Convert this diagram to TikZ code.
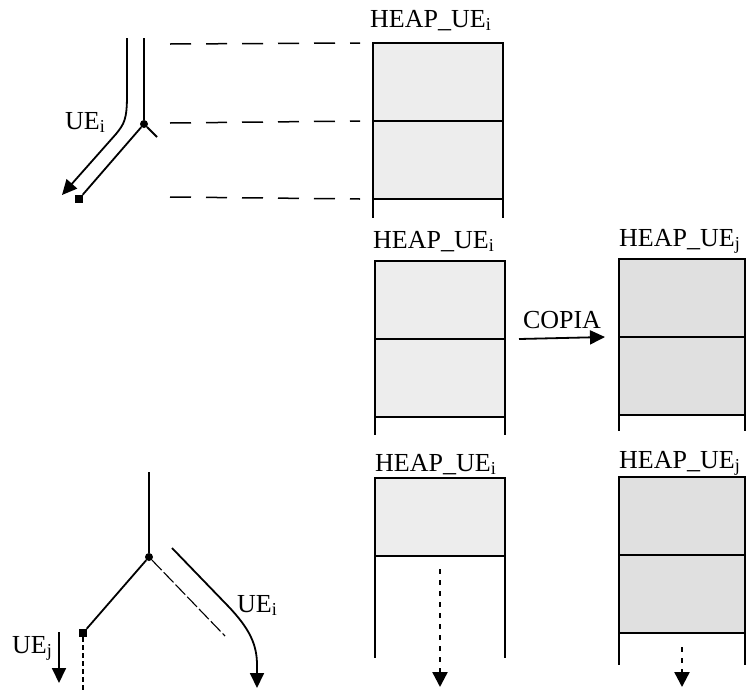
\documentclass[tikz,border=0pt]{standalone}
\usepackage{fontspec}
\setmainfont{Liberation Serif}
\usetikzlibrary{arrows.meta,positioning}
\definecolor{heapfill}{gray}{0.93}
\definecolor{copyfill}{gray}{0.88}
\tikzset{
  cell/.style={draw, line width=2pt, fill=heapfill, minimum width=130pt,
    minimum height=78pt, inner sep=0pt, outer sep=0pt},
  copycell/.style={cell, fill=copyfill, minimum width=126pt},
  wall/.style={line width=2pt},
  txt/.style={font=\fontsize{26}{28}\selectfont, anchor=base west, inner sep=0pt},
  guide/.style={line width=1.5pt, dash pattern=on 21pt off 15pt},
  branch/.style={line width=1.8pt},
  hint/.style={line width=1.1pt, dash pattern=on 14pt off 3pt},
  fork/.style={circle, fill, inner sep=0pt, minimum size=8pt},
  cut/.style={rectangle, fill, inner sep=0pt, minimum size=8pt},
  flow/.style={line width=1.8pt, -{Triangle[length=15pt,width=14pt]}},
  heapgrow/.style={line width=2.4pt, dash pattern=on 5pt off 6pt,
    -{Triangle[length=15pt,width=15pt]}},
}

\begin{document}
\begin{tikzpicture}[x=1pt,y=-1pt]
\useasboundingbox (0,0) rectangle (746,691);

% heap of UE_i, before the fork
\node[cell] (hiA) at (438,82) {};
\node[cell, below=0pt of hiA] (hiB) {};
\draw[wall] (hiB.south west) -- ++(0,19) (hiB.south east) -- ++(0,19);
\node[txt] (hiT) at (370,27) {HEAP\_UE\textsubscript{i}};

% process tree, top
\coordinate (tTop) at (144,38);
\node[fork] (tFork) at (144,124) {};
\coordinate (tStub) at (157,137);
\node[cut] (tSq) at (79,199) {};
\draw[branch] (tTop) -- (tFork);
\draw[branch] (tFork) -- (tStub);
\draw[branch] (tFork) -- (tSq);
\coordinate (tRun) at (127,38);
\coordinate (tRunEnd) at (62,195);
\draw[flow] (tRun) -- (127,95) .. controls (127,120) and (124,124) .. (116,134) -- (tRunEnd);
\node[txt] (tLab) at (65,129) {UE\textsubscript{i}};

\coordinate (g1) at (170,44);
\coordinate (g2) at (170,123);
\coordinate (g3) at (170,197);
\draw[guide] (g1) -- ([xshift=-13pt]hiA.north west);
\draw[guide] (g2) -- ([xshift=-13pt]hiB.north west);
\draw[guide] (g3) -- ([xshift=-13pt]hiB.south west);

% fork: the heap is copied
\node[cell] (hmA) at (440,300) {};
\node[cell, below=0pt of hmA] (hmB) {};
\draw[wall] (hmB.south west) -- ++(0,18) (hmB.south east) -- ++(0,18);
\node[txt] (hmT) at (373,248) {HEAP\_UE\textsubscript{i}};

\node[copycell] (hjA) at (682,298) {};
\node[copycell, below=0pt of hjA] (hjB) {};
\draw[wall] (hjB.south west) -- ++(0,16) (hjB.south east) -- ++(0,16);
\node[txt] (hjT) at (619,246) {HEAP\_UE\textsubscript{j}};

\draw[flow] ([xshift=14pt]hmB.north east) -- node[txt, anchor=base, yshift=10pt] (cp) {COPIA} ([xshift=-14pt]hjB.north west);

% after the fork
\node[cell] (hbA) at (440,517) {};
\draw[wall] (hbA.south west) -- ++(0,102) (hbA.south east) -- ++(0,102);
\node[txt] (hbT) at (375,471) {HEAP\_UE\textsubscript{i}};
\coordinate (bDrop) at (440,687);
\draw[heapgrow] ([yshift=-13pt]hbA.south) -- (bDrop);

\node[copycell] (hkA) at (682,516) {};
\node[copycell, below=0pt of hkA] (hkB) {};
\draw[wall] (hkB.south west) -- ++(0,32) (hkB.south east) -- ++(0,32);
\node[txt] (hkT) at (619,468) {HEAP\_UE\textsubscript{j}};
\coordinate (kDrop) at (682,687);
\draw[heapgrow] ([yshift=-14pt]hkB.south) -- (kDrop);

% process tree, bottom
\coordinate (bTop) at (149,472);
\node[fork] (bFork) at (149,557) {};
\node[cut] (bSq) at (83,633) {};
\coordinate (bStub) at (225,636);
\coordinate (bFoot) at (83,691);
\draw[branch] (bTop) -- (bFork);
\draw[branch] (bFork) -- (bSq);
\draw[hint] (bFork) -- (bStub);
\draw[line width=1.6pt, dash pattern=on 5pt off 3pt] (bSq) -- (bFoot);

\coordinate (bRun) at (172,548);
\coordinate (bRunEnd) at (257,688);
\draw[flow] (bRun) -- (228,606) .. controls (250,629) and (257,645) .. (257,665) -- (bRunEnd);
\node[txt] (bLab) at (237,612) {UE\textsubscript{i}};

\coordinate (jTop) at (59,632);
\coordinate (jEnd) at (59,683);
\draw[flow] (jTop) -- (jEnd);
\node[txt] (jLab) at (12,653) {UE\textsubscript{j}};
\end{tikzpicture}
\end{document}
